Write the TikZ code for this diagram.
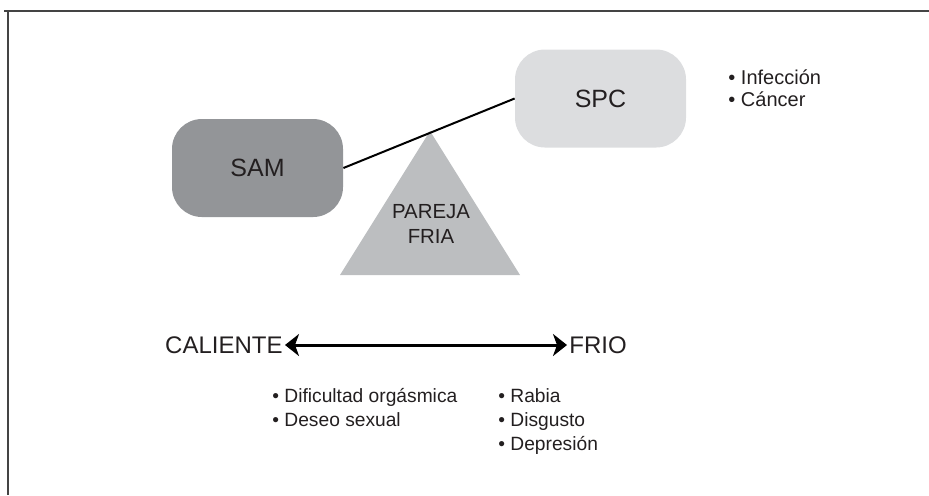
\documentclass[tikz,border=0pt]{standalone}
\usepackage{fontspec}
\setmainfont{Liberation Sans}
\usetikzlibrary{arrows.meta}
\usepackage{xcolor}
\definecolor{samgray}{HTML}{939598}
\definecolor{spcgray}{HTML}{DCDDDF}
\definecolor{trigray}{HTML}{BCBEC0}
\definecolor{inkgray}{HTML}{231F20}
\definecolor{framegray}{HTML}{444444}

\tikzset{
  statebox/.style={rounded corners=15pt, minimum width=85.5pt, minimum height=49pt,
    inner sep=0pt, font=\fontsize{12.5}{15}\selectfont, text=inkgray},
  poletext/.style={font=\fontsize{12}{14}\selectfont, text=inkgray, inner sep=1pt},
  bulletlist/.style={font=\fontsize{9.6}{12}\selectfont, text=inkgray, inner sep=0pt, align=left, anchor=north west},
  axishead/.tip={Stealth[length=7pt, width=11pt, inset=2pt]}
}

\begin{document}
\begin{tikzpicture}[x=0.5pt, y=-0.5pt]
            \useasboundingbox (0,0) rectangle (929,495);
            % Frame
            \draw[framegray, line width=1pt] (4,10.5) -- (929,10.5);
            \draw[framegray, line width=1pt] (7.5,10) -- (7.5,495);

            % Balance
            \coordinate (apex) at (430,131);
            \fill[trigray] (apex) -- (520,275) -- (340,275) -- cycle;
            \node[align=center, font=\fontsize{10.2}{12.5}\selectfont, text=inkgray] (pareja) at (431,224) {PAREJA\\FRIA};
            \node[statebox, fill=samgray] (sam) at (257.5,168) {SAM};
            \node[statebox, fill=spcgray] (spc) at (600.5,98.5) {SPC};
            \draw[black, line width=1pt] (sam.east) -- (spc.west);
            \node[bulletlist, font=\fontsize{10}{11}\selectfont] (spclist) at (728,69) {• Infección\\• Cáncer};

            % Hot - cold axis
            \node[poletext, anchor=east] (caliente) at (285,345) {CALIENTE};
            \node[poletext, anchor=west] (frio) at (567,345) {FRIO};
            \draw[axishead-axishead, line width=1.5pt, black] (caliente) -- (frio);

            % Lists
            \node[bulletlist] (hotlist) at (272,388) {• Dificultad orgásmica\\• Deseo sexual};
            \node[bulletlist] (coldlist) at (498,388) {• Rabia\\• Disgusto\\• Depresión};
        \end{tikzpicture}
\end{document}
